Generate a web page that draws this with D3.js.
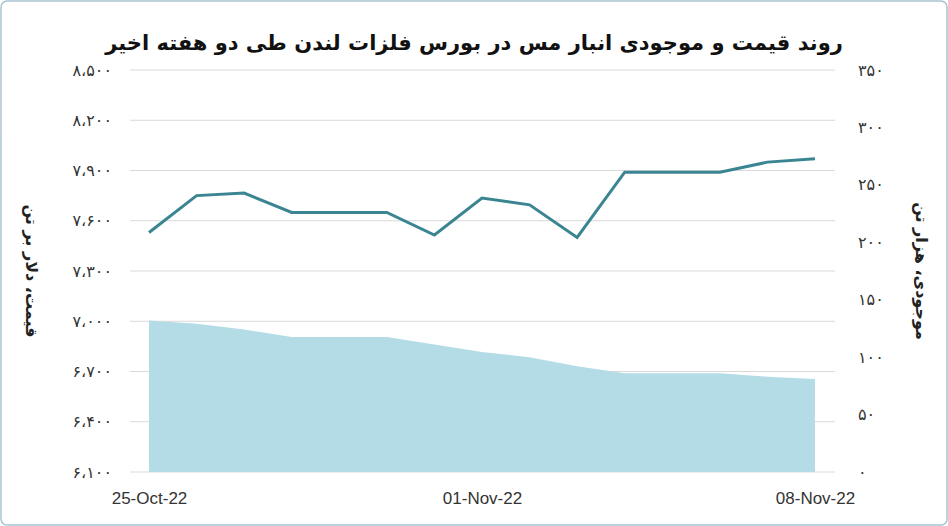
<!DOCTYPE html>
<html lang="fa">
<head>
<meta charset="UTF-8">
<script src="https://d3js.org/d3.v7.min.js"></script>
<style>
  body { margin: 0; background: #fff; }
  text { font-family: "DejaVu Sans", "Noto Sans", sans-serif; }
</style>
</head>
<body>
<svg id="chart" width="948" height="526"></svg>
<script>
var dates = ['25-Oct-22','26-Oct-22','27-Oct-22','28-Oct-22','29-Oct-22','30-Oct-22','31-Oct-22','01-Nov-22',
             '02-Nov-22','03-Nov-22','04-Nov-22','05-Nov-22','06-Nov-22','07-Nov-22','08-Nov-22'];
var price = [7530, 7750, 7765, 7650, 7650, 7650, 7515, 7735, 7695, 7500, 7890, 7890, 7890, 7950, 7970];
var stock = [132, 129, 124, 117.5, 117.5, 117.5, 111, 104.5, 100, 92, 86, 86, 86, 83, 81];
var shownDates = ['25-Oct-22', '01-Nov-22', '08-Nov-22'];
var priceTicks = d3.range(6100, 8501, 300);
var stockTicks = d3.range(0, 351, 50);

var fa = function (n) {
  var s = String(n);
  if (n >= 1000) s = s.slice(0, s.length - 3) + '،' + s.slice(-3);
  return s.replace(/\d/g, function (d) { return '۰۱۲۳۴۵۶۷۸۹'[d]; });
};

var svg = d3.select('#chart');
svg.append('rect').attr('x', 1).attr('y', 1).attr('width', 946).attr('height', 524)
  .attr('rx', 6).attr('fill', '#fff').attr('stroke', '#a9c3d3').attr('stroke-width', 1.5);

var x = d3.scalePoint().domain(dates).range([149, 815]);
var yL = d3.scaleLinear().domain([6100, 8500]).range([472, 70]);
var yR = d3.scaleLinear().domain([0, 350]).range([472, 70]);

// grid
svg.append('g').selectAll('line').data(priceTicks).enter().append('line')
  .attr('x1', 130).attr('x2', 835).attr('y1', d => yL(d)).attr('y2', d => yL(d))
  .attr('stroke', '#d9d9d9').attr('stroke-width', 1);

// area
svg.append('path').datum(stock)
  .attr('d', d3.area().x((d, i) => x(dates[i])).y0(yR(0)).y1(d => yR(d)))
  .attr('fill', '#b4dce6');

// line
svg.append('path').datum(price)
  .attr('d', d3.line().x((d, i) => x(dates[i])).y(d => yL(d)))
  .attr('fill', 'none').attr('stroke', '#3b8593').attr('stroke-width', 3);

// axes
var gl = svg.append('g').attr('transform', 'translate(112,0)')
  .call(d3.axisLeft(yL).tickValues(priceTicks).tickFormat(fa).tickSize(0).tickPadding(0));
var gr = svg.append('g').attr('transform', 'translate(858,0)')
  .call(d3.axisRight(yR).tickValues(stockTicks).tickFormat(fa).tickSize(0).tickPadding(0));
var gb = svg.append('g').attr('transform', 'translate(0,486)')
  .call(d3.axisBottom(x).tickValues(shownDates).tickSize(0).tickPadding(6));
[gl, gr, gb].forEach(g => {
  g.select('.domain').remove();
  g.selectAll('text').attr('fill', '#333').style('font-size', '17px')
    .style('font-family', '"Liberation Sans", Arial, sans-serif');
});
gl.selectAll('text').style('font-family', '"DejaVu Sans", sans-serif').style('font-size', '16px');
gr.selectAll('text').style('font-family', '"DejaVu Sans", sans-serif').style('font-size', '16px')
  .attr('text-anchor', 'start');

// titles
svg.append('text').attr('x', 474).attr('y', 50).attr('text-anchor', 'middle')
  .attr('direction', 'rtl').style('font-size', '21px').style('font-weight', 'bold').attr('fill', '#111')
  .text('روند قیمت و موجودی انبار مس در بورس فلزات لندن طی دو هفته اخیر');
svg.append('text').attr('transform', 'translate(26,271) rotate(90)').attr('text-anchor', 'middle')
  .attr('direction', 'rtl').style('font-size', '16px').style('font-weight', 'bold').attr('fill', '#222')
  .text('قیمت، دلار بر تن');
svg.append('text').attr('transform', 'translate(916,271) rotate(90)').attr('text-anchor', 'middle')
  .attr('direction', 'rtl').style('font-size', '16px').style('font-weight', 'bold').attr('fill', '#222')
  .text('موجودی، هزار تن');
</script>
</body>
</html>
